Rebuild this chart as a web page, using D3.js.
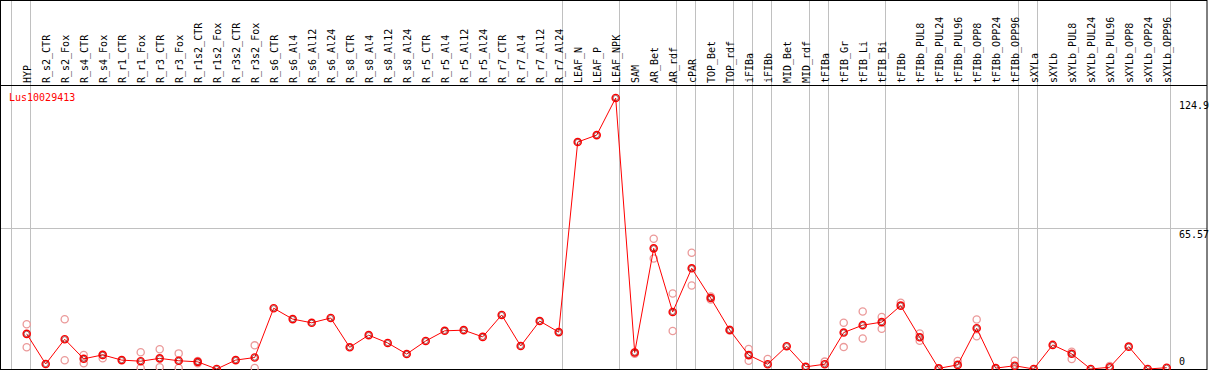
<!DOCTYPE html>
<html>
<head>
<meta charset="utf-8">
<script src="https://cdn.jsdelivr.net/npm/d3@7"></script>
<style>
  body { margin: 0; background: #fff; }
  text { font-family: "DejaVu Sans Mono", monospace; font-size: 10px; }
</style>
</head>
<body>
<svg id="chart"></svg>
<script>
// expression profile, one gene
const width = 1209;
const height = 370;

const samples = ["HYP","R_s2_CTR","R_s2_Fox","R_s4_CTR","R_s4_Fox","R_r1_CTR","R_r1_Fox","R_r3_CTR","R_r3_Fox",
  "R_r1s2_CTR","R_r1s2_Fox","R_r3s2_CTR","R_r3s2_Fox","R_s6_CTR","R_s6_Al4","R_s6_Al12","R_s6_Al24",
  "R_s8_CTR","R_s8_Al4","R_s8_Al12","R_s8_Al24","R_r5_CTR","R_r5_Al4","R_r5_Al12","R_r5_Al24",
  "R_r7_CTR","R_r7_Al4","R_r7_Al12","R_r7_Al24","LEAF_N","LEAF_P","LEAF_NPK","SAM","AR_Bet","AR_rdf",
  "cPAR","TOP_Bet","TOP_rdf","iFIBa","iFIBb","MID_Bet","MID_rdf","tFIBa","tFIB_Gr","tFIB_Li","tFIB_Bi",
  "tFIBb","tFIBb_PUL8","tFIBb_PUL24","tFIBb_PUL96","tFIBb_OPP8","tFIBb_OPP24","tFIBb_OPP96",
  "sXYLa","sXYLb","sXYLb_PUL8","sXYLb_PUL24","sXYLb_PUL96","sXYLb_OPP8","sXYLb_OPP24","sXYLb_OPP96"];

// mean values
const means = [16.2,2.3,13.7,4.7,6.5,4.1,3.6,4.9,3.8,3.3,0,4.1,5.3,28.0,23.0,21.3,23.5,10.0,15.6,12.0,6.9,
  12.9,17.6,17.9,14.8,24.9,10.6,22.1,17.0,104.6,107.8,124.9,7.6,55.6,26.3,46.4,32.7,18.0,6.4,2.2,
  10.5,1.0,2.2,16.8,20.2,21.6,29.2,14.6,0.3,1.9,18.8,0.4,1.5,0,11.1,7.0,0,0.8,10.3,0,0.6];

// replicates (null = none)
const rep1 = [20.6,null,22.9,6.5,6.5,null,7.7,9.1,7.2,3.7,null,null,10.9,null,null,null,null,null,null,null,null,
  null,null,null,null,null,null,null,null,null,null,null,7.6,60.0,34.8,53.6,33.4,18.1,9.2,4.6,
  null,null,3.4,21.3,26.5,24.0,30.5,16.4,null,3.7,22.8,null,3.8,null,null,8.0,null,1.4,null,null,null];
const rep2 = [10.0,null,4.0,2.6,4.9,null,0.5,0.8,0.5,2.6,null,null,0.5,null,null,null,null,null,null,null,null,
  null,null,null,null,null,null,null,null,null,null,null,7.0,50.9,17.5,38.5,32.0,17.8,3.8,null,
  null,null,null,10.1,14.1,18.5,null,13.0,null,null,15.1,null,null,null,null,4.6,null,null,null,null,null];

// last sample of each group (grey separators)
const groupEnds = ["HYP","R_r7_Al24","LEAF_NPK","AR_rdf","cPAR","TOP_rdf","iFIBa","iFIBb","MID_rdf",
  "tFIBa","tFIB_Bi","tFIBb_OPP96","sXYLa","sXYLb_OPP96"];

const yTicks = [124.9, 65.57, 0];
const gridVals = [65.57];
const geneName = "Lus10029413";

const svg = d3.select('#chart')
  .attr('width', width)
  .attr('height', height);

const x = d3.scalePoint().domain(samples).range([26.7, 1166.7]);
const y = d3.scaleLinear().domain([0, 124.9]).range([369, 98]);

// grey separators
const sepX = [x(samples[0]) - x.step() + 4].concat(groupEnds.map(d => x(d) + 4));
svg.append('g').selectAll('line')
  .data(sepX)
  .enter().append('line')
  .attr('x1', d => d).attr('x2', d => d)
  .attr('y1', 0).attr('y2', height)
  .attr('stroke', '#c0c0c0')
  .attr('shape-rendering', 'crispEdges');

// horizontal grid
svg.append('g').selectAll('line')
  .data(gridVals)
  .enter().append('line')
  .attr('x1', 1).attr('x2', 1207)
  .attr('y1', d => Math.round(y(d)) + 1.5).attr('y2', d => Math.round(y(d)) + 1.5)
  .attr('stroke', '#c0c0c0');

// frame
svg.append('rect')
  .attr('x', 0.5).attr('y', 0.5)
  .attr('width', 1206.5).attr('height', 369)
  .attr('fill', 'none').attr('stroke', '#000');
svg.append('line')
  .attr('x1', 0).attr('x2', 1207)
  .attr('y1', 85.5).attr('y2', 85.5)
  .attr('stroke', '#000');

// sample labels
svg.append('g').selectAll('text')
  .data(samples)
  .enter().append('text')
  .attr('transform', d => `translate(${x(d) + 3.8},83) rotate(-90)`)
  .attr('fill', '#000')
  .text(d => d);

// y labels
svg.append('g').selectAll('text')
  .data(yTicks)
  .enter().append('text')
  .attr('x', 1179)
  .attr('y', d => d === 0 ? y(d) - 4 : y(d) + 11)
  .attr('fill', '#000')
  .text(d => d);

svg.append('text')
  .attr('x', 9).attr('y', 101)
  .attr('fill', 'red')
  .text(geneName);

// replicate dots
[rep1, rep2].forEach(rep => {
  svg.append('g').selectAll('circle')
    .data(samples.map((s, i) => ({s, v: rep[i]})).filter(d => d.v !== null))
    .enter().append('circle')
    .attr('cx', d => x(d.s))
    .attr('cy', d => y(d.v))
    .attr('r', 3.6)
    .attr('fill', 'none')
    .attr('stroke', '#eb9a9a')
    .attr('stroke-width', 1.3);
});

// mean line
const line = d3.line()
  .x((d, i) => x(samples[i]))
  .y(d => y(d));
svg.append('path')
  .datum(means)
  .attr('d', line)
  .attr('fill', 'none')
  .attr('stroke', '#f00')
  .attr('stroke-width', 1);

const dots = svg.append('g').selectAll('g')
  .data(means)
  .enter().append('g')
  .attr('transform', (d, i) => `translate(${x(samples[i])},${y(d)})`);
dots.append('circle')
  .attr('r', 3.6)
  .attr('fill', 'none')
  .attr('stroke', '#f00')
  .attr('stroke-width', 1.4);
dots.append('circle')
  .attr('r', 2.6)
  .attr('fill', 'none')
  .attr('stroke', '#600')
  .attr('stroke-width', 0.6);
</script>
</body>
</html>
